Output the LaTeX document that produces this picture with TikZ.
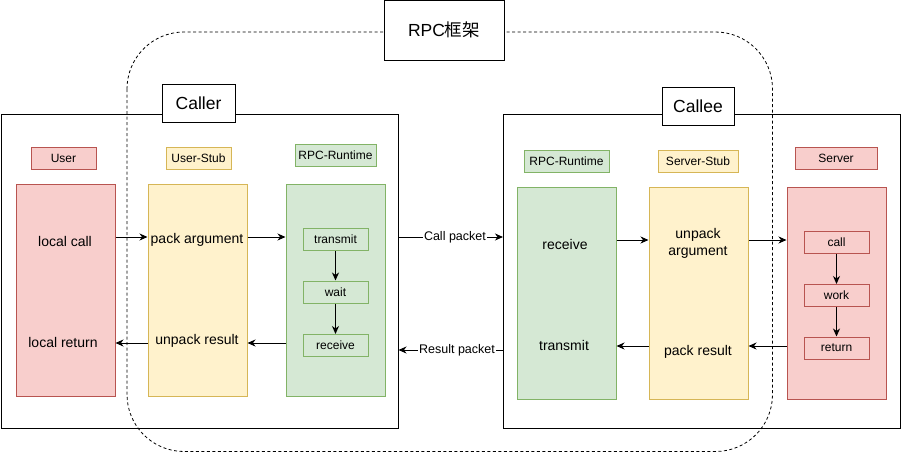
\documentclass[tikz,border=0pt]{standalone}
\usepackage{fontspec}
\setmainfont{Liberation Sans}
\newfontfamily\cjk{Noto Sans CJK SC}
\usetikzlibrary{arrows.meta}
\definecolor{redfill}{HTML}{F8CECC}
\definecolor{redline}{HTML}{B85450}
\definecolor{yelfill}{HTML}{FFF2CC}
\definecolor{yelline}{HTML}{D6B656}
\definecolor{grnfill}{HTML}{D5E8D4}
\definecolor{grnline}{HTML}{82B366}

\begin{document}
\begin{tikzpicture}[x=1pt,y=-1pt,line width=1pt,
        frame/.style={draw,inner sep=0pt,minimum width=397pt,minimum height=314pt},
        title/.style={draw,fill=white,inner sep=0pt,font=\fontsize{17.5}{20}\selectfont},
        redbox/.style={draw=redline,fill=redfill},
        yelbox/.style={draw=yelline,fill=yelfill},
        grnbox/.style={draw=grnline,fill=grnfill},
        tag/.style={inner sep=0pt,minimum width=#1,minimum height=22pt,font=\fontsize{12}{14}\selectfont},
        big/.style={inner sep=0pt,minimum width=99pt,minimum height=212pt},
        act/.style={inner sep=0pt,minimum width=65pt,minimum height=22pt,font=\fontsize{12}{14}\selectfont},
        txt/.style={inner sep=0pt,align=center,font=\fontsize{14}{17}\selectfont},
        arr/.style={-{Stealth[length=8pt,width=7pt,inset=2.5pt]}},
        pkt/.style={fill=white,inner sep=1pt,font=\fontsize{12.5}{15}\selectfont}]
        \useasboundingbox (0,0) rectangle (902,453);
        \draw[dashed,line width=.8pt,dash pattern=on 3pt off 2.5pt,rounded corners=57pt] (127,32) rectangle (772.5,451.5);
        \node[title,minimum width=120pt,minimum height=60pt] (rpc) at (444,30) {RPC{\cjk 框架}};

        \node[frame] (caller) at (199.5,271) {};
        \node[frame] (callee) at (702,271) {};
        \node[title,minimum width=73pt,minimum height=38pt] (callertitle) at (198.5,103) {Caller};
        \node[title,minimum width=72pt,minimum height=38pt] (calleetitle) at (698,106) {Callee};

        \node[tag=65pt,redbox] (usertag) at (63.5,158) {User};
        \node[tag=65pt,yelbox] (ustubtag) at (198.5,158) {User-Stub};
        \node[tag=81pt,grnbox] (lrttag) at (335.5,155.5) {RPC-Runtime};
        \node[tag=85pt,grnbox] (rrttag) at (566.5,161) {RPC-Runtime};
        \node[tag=80pt,yelbox] (sstubtag) at (698,161) {Server-Stub};
        \node[tag=82pt,redbox] (servertag) at (836,158) {Server};

        \node[big,redbox] (user) at (65.5,290) {};
        \node[big,yelbox] (ustub) at (197.5,290) {};
        \node[big,grnbox] (lrt) at (335.5,290) {};
        \node[big,grnbox] (rrt) at (566.5,293) {};
        \node[big,yelbox] (sstub) at (698.5,293) {};
        \node[big,redbox] (server) at (836.5,293) {};

        \node[txt] (localcall) at (65,241) {local call};
        \node[txt] (localreturn) at (63,342) {local return};
        \node[txt] (packarg) at (197,240) {pack argument};
        \node[txt] (unpackres) at (197,341) {unpack result};
        \node[txt] (receive) at (565,244) {receive};
        \node[txt] (transmit) at (564,345) {transmit};
        \node[txt] (unpackarg) at (698,243) {unpack\\argument};
        \node[txt] (packres) at (698,352) {pack result};

        \node[act,grnbox] (ltransmit) at (335.5,239.5) {transmit};
        \node[act,grnbox] (lwait) at (335.5,292) {wait};
        \node[act,grnbox] (lreceive) at (335.5,345.5) {receive};
        \node[act,redbox] (call) at (836.5,242) {call};
        \node[act,redbox] (work) at (836.5,295.5) {work};
        \node[act,redbox] (return) at (836.5,348) {return};

        \draw[arr] (ltransmit) -- (lwait);
        \draw[arr] (lwait) -- (lreceive);
        \draw[arr] (call) -- (work);
        \draw[arr] (work) -- (return);

        \draw[arr] ([yshift=53pt]user.east) -- ([yshift=53pt]ustub.west);
        \draw[arr] ([yshift=53pt]ustub.east) -- ([yshift=53pt]lrt.west);
        \draw[arr] ([yshift=-53pt]lrt.west) -- ([yshift=-53pt]ustub.east);
        \draw[arr] ([yshift=-53pt]ustub.west) -- ([yshift=-53pt]user.east);
        \draw[arr] ([yshift=53pt]rrt.east) -- ([yshift=53pt]sstub.west);
        \draw[arr] ([yshift=53pt]sstub.east) -- ([yshift=53pt]server.west);
        \draw[arr] ([yshift=-53pt]server.west) -- ([yshift=-53pt]sstub.east);
        \draw[arr] ([yshift=-53pt]sstub.west) -- ([yshift=-53pt]rrt.east);

        \draw[arr] ([yshift=34pt]caller.east) -- node[pkt,pos=.54] {Call packet} ([yshift=34pt]callee.west);
        \draw[arr] ([yshift=-79pt]callee.west) -- node[pkt,pos=.44] {Result packet} ([yshift=-79pt]caller.east);
    \end{tikzpicture}
\end{document}
